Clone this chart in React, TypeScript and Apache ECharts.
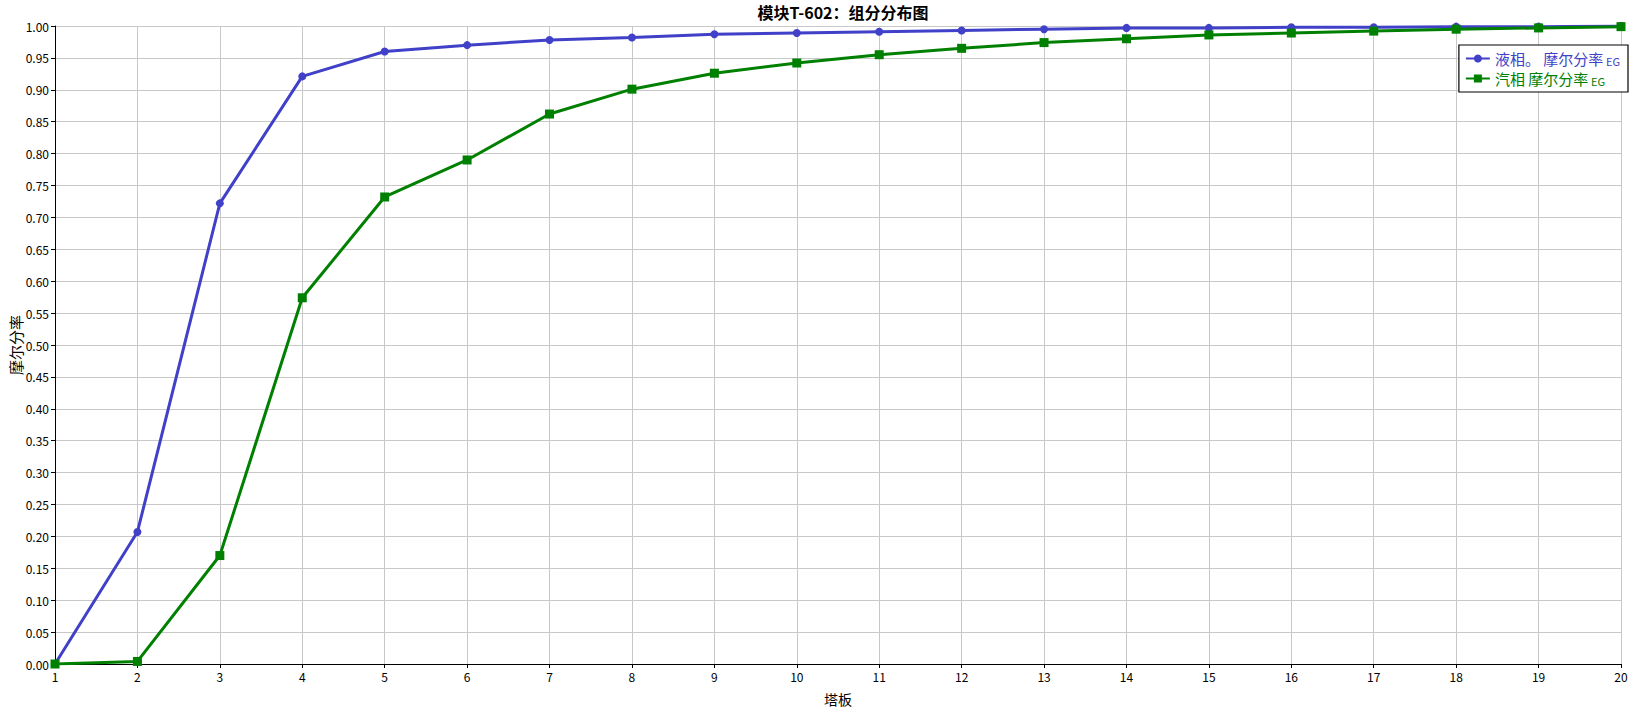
import React, { useEffect, useRef } from "react";
import * as echarts from "echarts";

const stages = [1, 2, 3, 4, 5, 6, 7, 8, 9, 10, 11, 12, 13, 14, 15, 16, 17, 18, 19, 20];
const liquidEG = [0.0, 0.207, 0.722, 0.921, 0.96, 0.97, 0.978, 0.982, 0.987, 0.989, 0.991, 0.993, 0.995, 0.997, 0.997, 0.998, 0.998, 0.999, 0.999, 1.0];
const vaporEG = [0.0, 0.004, 0.17, 0.574, 0.732, 0.79, 0.862, 0.901, 0.926, 0.942, 0.955, 0.965, 0.974, 0.98, 0.986, 0.989, 0.992, 0.995, 0.997, 0.999];

const titleText = "模块T-602：组分分布图";
const liquidName = "液相。 摩尔分率 EG";
const vaporName = "汽相 摩尔分率 EG";
const xName = "塔板";
const yName = "摩尔分率";

const FONT = "'Noto Sans CJK SC', 'Noto Sans', sans-serif";

export default function App() {
  const ref = useRef<HTMLDivElement>(null);
  useEffect(() => {
    document.body.style.margin = "0";
    if (!ref.current) return;
    const chart = echarts.init(ref.current, undefined, { renderer: "svg" });
    const toPairs = (arr: number[]) => stages.map((s, i) => [s, arr[i]]);
    const rich = (c: string) => ({
      m: { fontSize: 15, color: c, fontFamily: FONT },
      s: { fontSize: 11, color: c, fontFamily: FONT, padding: [4, 0, 0, 0] },
    });
    chart.setOption({
      animation: false,
      backgroundColor: "#ffffff",
      textStyle: { fontFamily: FONT },
      title: {
        text: titleText,
        left: 838,
        textAlign: "center",
        top: -1,
        textStyle: { fontSize: 16, fontWeight: "bold", color: "#000", fontFamily: FONT },
      },
      grid: { left: 55, right: 12, top: 26, bottom: 46, containLabel: false, outerBoundsMode: "none" },
      legend: {
        orient: "vertical",
        right: 5,
        top: 45,
        backgroundColor: "#fff",
        borderColor: "#000",
        borderWidth: 1.2,
        borderRadius: 0,
        padding: [6, 8, 6, 6],
        itemGap: 5,
        itemWidth: 24,
        itemHeight: 10,
        formatter: (name: string) => {
          const base = name.replace(/ EG$/, "");
          return `{m|${base}} {s|EG}`;
        },
        data: [
          { name: liquidName, textStyle: { color: "#4040c8", rich: rich("#4040c8") } },
          { name: vaporName, textStyle: { color: "#008000", rich: rich("#008000") } },
        ],
      },
      xAxis: {
        type: "value",
        min: 1,
        max: 20,
        interval: 1,
        name: xName,
        nameLocation: "middle",
        nameGap: 28,
        nameMoveOverlap: false,
        nameTextStyle: { fontSize: 14, color: "#000", fontFamily: FONT },
        axisLine: { lineStyle: { color: "#000", width: 1 } },
        axisTick: { show: true, length: 4, lineStyle: { color: "#000" } },
        axisLabel: { fontSize: 12, color: "#000", margin: 6, fontFamily: FONT },
        splitLine: { show: true, lineStyle: { color: "#c8c8c8", width: 1 } },
      },
      yAxis: {
        type: "value",
        min: 0,
        max: 1,
        interval: 0.05,
        name: yName,
        nameLocation: "middle",
        nameGap: 40,
        nameMoveOverlap: false,
        nameRotate: 90,
        nameTextStyle: { fontSize: 15, color: "#000", fontFamily: FONT, verticalAlign: "middle" },
        axisLine: { show: true, lineStyle: { color: "#000", width: 1 } },
        axisTick: { show: true, length: 4, lineStyle: { color: "#000" } },
        axisLabel: {
          fontSize: 12,
          color: "#000",
          margin: 6,
          fontFamily: FONT,
          formatter: (v: number) => v.toFixed(2),
        },
        splitLine: { show: true, lineStyle: { color: "#c8c8c8", width: 1 } },
      },
      series: [
        {
          name: liquidName,
          type: "line",
          data: toPairs(liquidEG),
          symbol: "circle",
          symbolSize: 8,
          showAllSymbol: true,
          lineStyle: { color: "#4040c8", width: 3 },
          itemStyle: { color: "#4040c8" },
          z: 3,
        },
        {
          name: vaporName,
          type: "line",
          data: toPairs(vaporEG),
          symbol: "rect",
          symbolSize: 9,
          showAllSymbol: true,
          lineStyle: { color: "#008000", width: 3 },
          itemStyle: { color: "#008000" },
          z: 4,
        },
      ],
    });
    return () => chart.dispose();
  }, []);
  return <div ref={ref} style={{ width: 1633, height: 710 }} />;
}
